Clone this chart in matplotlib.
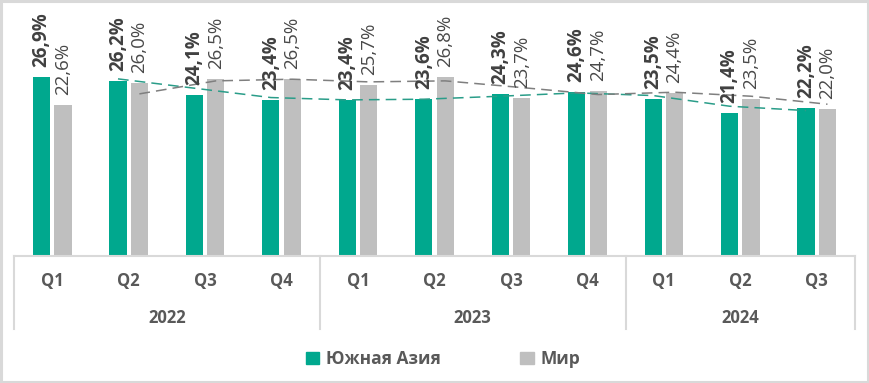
import matplotlib
matplotlib.use('Agg')
import matplotlib.pyplot as plt
import numpy as np
import pandas as pd
from matplotlib.patches import Patch, Rectangle

plt.rcParams['font.family'] = ['Open Sans', 'DejaVu Sans']

quarters = ['Q1', 'Q2', 'Q3', 'Q4', 'Q1', 'Q2', 'Q3', 'Q4', 'Q1', 'Q2', 'Q3']
years = ['2022', '2023', '2024']
year_sizes = [4, 4, 3]
south_asia = [26.9, 26.2, 24.1, 23.4, 23.4, 23.6, 24.3, 24.6, 23.5, 21.4, 22.2]
world = [22.6, 26.0, 26.5, 26.5, 25.7, 26.8, 23.7, 24.7, 24.4, 23.5, 22.0]

green = '#00A88E'
grey = '#BFBFBF'
text_col = '#595959'
line_col = '#D9D9D9'

fig = plt.figure(figsize=(8.69, 3.83), dpi=100)
ax = fig.add_axes([14 / 869, 127 / 383, 841 / 869, 233.5 / 383])

x = np.arange(len(quarters))
w = 0.225
off = 0.14
ax.bar(x - off, south_asia, w, color=green, zorder=2)
ax.bar(x + off, world, w, color=grey, zorder=2)

# trend lines: 2-period moving average, as in the source chart
sa_ma = pd.Series(south_asia).rolling(2).mean()
w_ma = pd.Series(world).rolling(2).mean()
ax.plot(x - off, sa_ma, color='#2A9D89', lw=1.1, dashes=(7, 4), zorder=3)
ax.plot(x + off, w_ma, color='#7F7F7F', lw=1.1, dashes=(7, 4), zorder=3)

for i in range(len(x)):
    ax.annotate('{:.1f}%'.format(south_asia[i]).replace('.', ','),
                (x[i] - off, south_asia[i]), xytext=(0, 10), textcoords='offset pixels',
                rotation=90, ha='center', va='bottom', fontsize=13.5, fontweight='bold',
                color='#404040')
    ax.annotate('{:.1f}%'.format(world[i]).replace('.', ','),
                (x[i] + off, world[i]), xytext=(0, 10), textcoords='offset pixels',
                rotation=90, ha='center', va='bottom', fontsize=13.5, color='#484848')

ax.set_xlim(-0.5, len(x) - 0.5)
ax.set_ylim(0, 35)
ax.set_yticks([])
ax.set_xticks([])
for s in ['top', 'right', 'left']:
    ax.spines[s].set_visible(False)
ax.spines['bottom'].set_color(line_col)
ax.spines['bottom'].set_linewidth(1.5)

trans = ax.get_xaxis_transform()
for i, q in enumerate(quarters):
    ax.annotate(q, (x[i], 0), xycoords=trans, xytext=(0, -25), textcoords='offset pixels',
                ha='center', va='center', fontsize=12, fontweight='bold', color=text_col)

start = -0.5
sep_y = -73 / 233.5
ax.plot([start, start], [0, sep_y], transform=trans, color=line_col, lw=1.5, clip_on=False)
for yr, n in zip(years, year_sizes):
    end = start + n
    ax.annotate(yr, ((start + end) / 2, 0), xycoords=trans, xytext=(0, -62),
                textcoords='offset pixels', ha='center', va='center', fontsize=12,
                fontweight='bold', color=text_col)
    ax.plot([end, end], [0, sep_y], transform=trans, color=line_col, lw=1.5, clip_on=False)
    start = end

handles = [Patch(color=green, label='Южная Азия'), Patch(color=grey, label='Мир')]
leg = fig.legend(handles=handles, loc='center', bbox_to_anchor=(443 / 869, 1 - 359 / 383),
                 ncol=2, frameon=False, handlelength=0.75, handleheight=0.75,
                 handletextpad=0.4, columnspacing=4.6,
                 prop={'size': 12.5, 'weight': 'bold'})
for t in leg.get_texts():
    t.set_color(text_col)

fig.patches.append(Rectangle((0.0015, 0.003), 0.997, 0.994, transform=fig.transFigure,
                             fill=False, edgecolor=line_col, lw=2.2))

fig.savefig('out.png', dpi=100, facecolor='white')
